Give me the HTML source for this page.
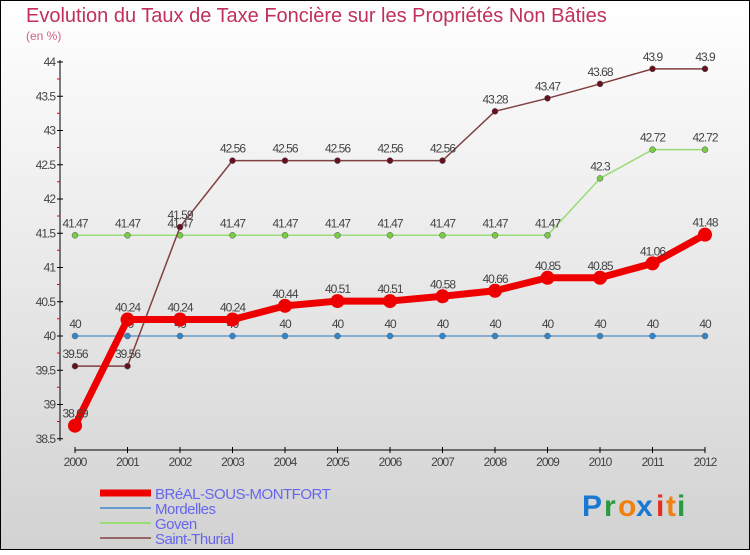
<!DOCTYPE html>
<html><head><meta charset="utf-8"><style>
body{margin:0}
#c{width:750px;height:550px;position:relative;font-family:"Liberation Sans",sans-serif}
</style></head><body>
<div id="c">
<svg id="s" width="750" height="550" xmlns="http://www.w3.org/2000/svg">
<defs><linearGradient id="bg" x1="0" y1="0" x2="0" y2="1"><stop offset="0" stop-color="#ffffff"/><stop offset="1" stop-color="#d2d2d2"/></linearGradient></defs>
<rect x="0.5" y="0.5" width="749" height="549" fill="url(#bg)" stroke="#000"/>
<text x="26" y="22" font-size="20" fill="#c0305a">Evolution du Taux de Taxe Foncière sur les Propriétés Non Bâties</text>
<text x="26" y="40" font-size="12" fill="#d06080">(en %)</text>
<g id="axes"></g><g id="series"></g><g id="legend"></g>
<g font-size="30" font-weight="bold" font-family="Liberation Sans,sans-serif">
<text x="582" y="516" fill="#1a78d0">P</text><text x="604" y="516" fill="#2a9a40">r</text><text x="618" y="516" fill="#f08010">o</text><text x="636" y="516" fill="#1a78d0">x</text><text x="656" y="516" fill="#e03020">i</text><text x="666" y="516" fill="#f08010">t</text><text x="677" y="516" fill="#2a9a40">i</text>
</g>
</svg></div>
<script>
const years=[2000,2001,2002,2003,2004,2005,2006,2007,2008,2009,2010,2011,2012];
const yTicks=[38.5,39,39.5,40,40.5,41,41.5,42,42.5,43,43.5,44];
const breal=[38.69,40.24,40.24,40.24,40.44,40.51,40.51,40.58,40.66,40.85,40.85,41.06,41.48];
const mordelles=[40,40,40,40,40,40,40,40,40,40,40,40,40];
const goven=[41.47,41.47,41.47,41.47,41.47,41.47,41.47,41.47,41.47,41.47,42.3,42.72,42.72];
const thurial=[39.56,39.56,41.59,42.56,42.56,42.56,42.56,42.56,43.28,43.47,43.68,43.9,43.9];
const NS="http://www.w3.org/2000/svg";
const xS=i=>75+i*52.5;
const yS=v=>336-(v-40)*68.5;
function mk(tag,attrs,parent,txt){const e=document.createElementNS(NS,tag);for(const k in attrs)e.setAttribute(k,attrs[k]);if(txt!==undefined)e.textContent=txt;parent.appendChild(e);return e;}
const ax=document.getElementById('axes');
let a=mk('line',{x1:60,y1:60,x2:60,y2:441,stroke:'#000'},ax);

a=mk('line',{x1:75,y1:450,x2:705,y2:450,stroke:'#000'},ax);

yTicks.forEach((v,k)=>{const y=yS(v);
 mk('line',{x1:57,y1:y,x2:63,y2:y,stroke:'#000'},ax);
 if(k>0) mk('line',{x1:57,y1:y+17,x2:60,y2:y+17,stroke:'#e00'},ax);
 const t=mk('text',{x:55,y:y+4,'font-size':12,fill:'#444','text-anchor':'end','letter-spacing':'-1'},ax,String(v));
 });
years.forEach((yr,i)=>{const x=xS(i);
 mk('line',{x1:x,y1:447,x2:x,y2:453,stroke:'#000'},ax);
 const t=mk('text',{x:x,y:466,'font-size':12,fill:'#444','text-anchor':'middle','letter-spacing':'-1'},ax,String(yr));
 });
const sg=document.getElementById('series');
function series(name,data,col,w,r,dot,labfmt){
 const g=mk('g',{},sg);
 const p=mk('polyline',{points:data.map((v,i)=>xS(i)+','+yS(v)).join(' '),fill:'none',stroke:col,'stroke-width':w,'stroke-linejoin':'round'},g);
 
 data.forEach((v,i)=>{const c=mk('circle',{cx:xS(i),cy:yS(v),r:r,fill:dot,stroke:r>4?'none':'#555','stroke-width':0.5},g);
  
  const t=mk('text',{x:xS(i),y:yS(v)-8,'font-size':12,fill:'#444','text-anchor':'middle','letter-spacing':'-1'},g,labfmt(v));
  });
}
const fmt=v=>String(+v.toFixed(2));
series('mordelles',mordelles,'#6699cc',1.5,3,'#3388cc',fmt);
series('goven',goven,'#99dd77',1.5,3,'#77cc44',fmt);
series('saint-thurial',thurial,'#804040',1.5,3,'#661122',fmt);
series('breal',breal,'#ee0000',7,7,'#ee0000',fmt);
const lg=document.getElementById('legend');
const L=[['BRéAL-SOUS-MONTFORT','#ee0000',7],['Mordelles','#6699cc',2],['Goven','#99dd77',2],['Saint-Thurial','#996666',2]];
L.forEach((l,i)=>{const y=493+i*15;
 const g=mk('g',{},lg);
 mk('line',{x1:100,y1:y,x2:151,y2:y,stroke:l[1],'stroke-width':l[2]},g);
 mk('text',{x:155,y:y+6,'font-size':15,fill:'#6666ee','letter-spacing':'-0.5'},g,l[0]);});
</script>
</body></html>
